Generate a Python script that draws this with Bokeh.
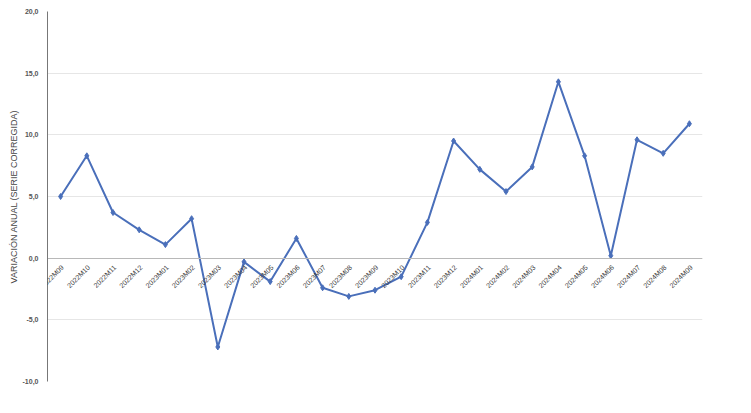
import math
from bokeh.plotting import figure
from bokeh.models import FactorRange, Range1d, LabelSet, ColumnDataSource
from bokeh.core.properties import value
from bokeh.embed import file_html
from bokeh.resources import INLINE

periods = ["2022M09", "2022M10", "2022M11", "2022M12", "2023M01", "2023M02", "2023M03",
           "2023M04", "2023M05", "2023M06", "2023M07", "2023M08", "2023M09", "2023M10",
           "2023M11", "2023M12", "2024M01", "2024M02", "2024M03", "2024M04", "2024M05",
           "2024M06", "2024M07", "2024M08", "2024M09"]
variation = [5.0, 8.3, 3.7, 2.3, 1.1, 3.2, -7.2, -0.3, -1.9, 1.6, -2.4, -3.1, -2.6, -1.5,
             2.9, 9.5, 7.2, 5.4, 7.4, 14.3, 8.3, 0.2, 9.6, 8.5, 10.9]
y_ticks = [-10, -5, 0, 5, 10, 15, 20]
y_tick_labels = ["-10,0", "-5,0", "0,0", "5,0", "10,0", "15,0", "20,0"]

p = figure(width=745, height=405, output_backend="svg", toolbar_location=None,
           x_range=FactorRange(*periods, range_padding=0), y_range=Range1d(-10, 20))
p.min_border_left = 47
p.min_border_right = 43
p.min_border_top = 11
p.min_border_bottom = 24
p.outline_line_color = None
p.background_fill_color = "white"

line_color = "#4a6fba"
p.line(periods, variation, line_color=line_color, line_width=2)
p.scatter(periods, variation, marker="diamond", size=6, color=line_color)

# x axis crossing at zero; category labels drawn as annotations
p.xaxis.fixed_location = 0
p.xaxis.major_label_text_color = None
p.xaxis.major_label_text_font_size = "1px"
p.xaxis.axis_line_color = "#b8b8b8"
p.xaxis.major_tick_line_color = None
p.xaxis.minor_tick_line_color = None
p.xgrid.grid_line_color = None

label_src = ColumnDataSource(dict(x=periods, y=[0] * len(periods), text=periods))
labels = LabelSet(x="x", y="y", text="text", source=label_src, angle=math.pi / 4,
                  text_align="right", text_baseline="middle", x_offset=2, y_offset=-8,
                  text_font=value("Liberation Sans"), text_font_size="7px",
                  text_color="#3a3a3a", level="overlay")
p.add_layout(labels)

p.yaxis.ticker = y_ticks
p.yaxis.major_label_overrides = {t: s for t, s in zip(y_ticks, y_tick_labels)}
p.yaxis.major_label_text_font = "Liberation Sans"
p.yaxis.major_label_text_font_size = "7px"
p.yaxis.major_label_text_font_style = "bold"
p.yaxis.major_label_text_color = "#555555"
p.yaxis.major_label_standoff = 3
p.yaxis.axis_line_color = "#777777"
p.yaxis.major_tick_line_color = None
p.yaxis.minor_tick_line_color = None
p.yaxis.axis_label = "VARIACIÓN ANUAL (SERIE CORREGIDA)"
p.yaxis.axis_label_text_font = "Liberation Sans"
p.yaxis.axis_label_text_font_size = "9px"
p.yaxis.axis_label_text_font_style = "normal"
p.yaxis.axis_label_text_color = "#444444"
p.yaxis.axis_label_standoff = 1
p.ygrid.grid_line_color = "#e6e6e6"

open("out.html", "w").write(file_html(p, INLINE))
